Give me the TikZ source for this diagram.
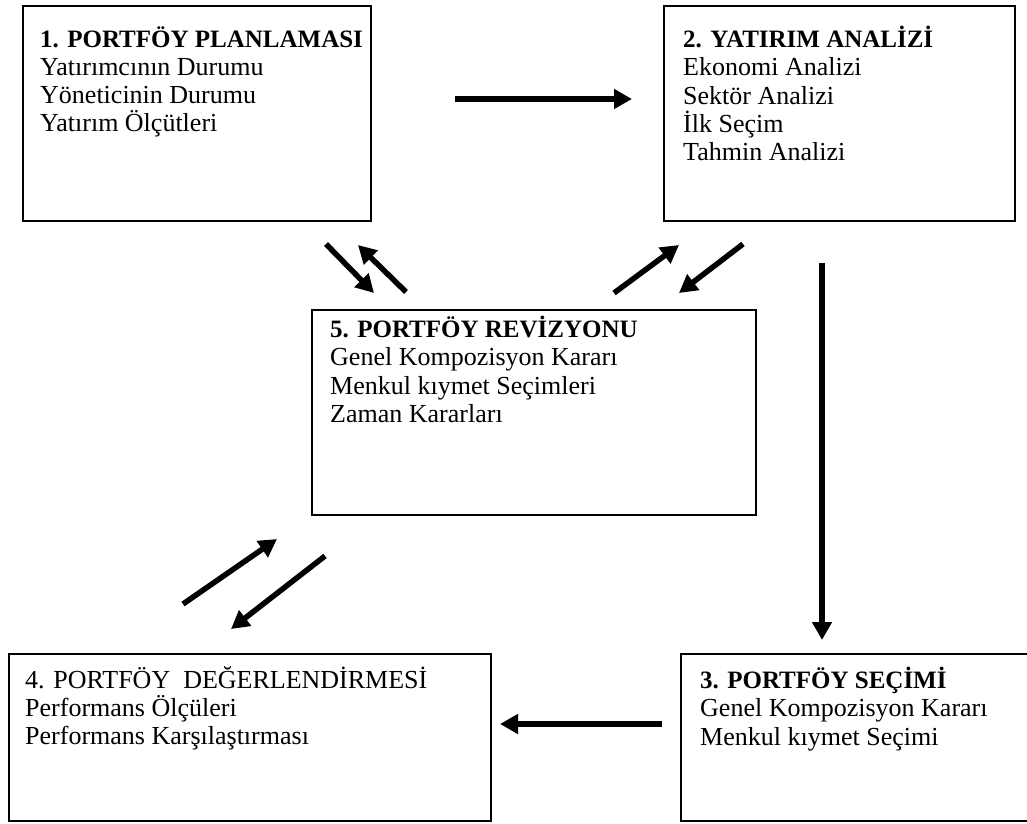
\documentclass[tikz,border=0pt]{standalone}
\usepackage{fontspec}
\setmainfont{Liberation Serif}
\usetikzlibrary{arrows.meta,positioning}
\newcommand{\boxtitle}[1]{\textbf{\fontsize{25}{28.3}\selectfont #1}}
\tikzset{
    %Define standard arrow tip
    >={Triangle[length=18pt,width=19pt]},
    %Define style for boxes
    box/.style={
           rectangle,
           draw=black, line width=1.8pt,
           anchor=north west,
           inner sep=0pt},
    boxtext/.style={
           align=left,
           inner sep=0pt,
           font=\fontsize{26}{28.3}\selectfont},
    % Define arrow style
    pil/.style={
           ->,
           line width=5.5pt}
}
\begin{document}
\begin{tikzpicture}[x=1pt,y=-1pt]
\useasboundingbox (0,0) rectangle (1027,823);
 %boxes
\node[box, minimum width=348pt, minimum height=215pt](1) at (22,5){};
\node[box, minimum width=351pt, minimum height=215pt](2) at (663,5){};
\node[box, minimum width=444pt, minimum height=205pt](5) at (311,309){};
\node[box, minimum width=482pt, minimum height=167pt](4) at (8,653){};
\node[box, minimum width=360pt, minimum height=167pt](3) at (680,653){};
 %texts
\node[boxtext, below right=21pt and 18pt of 1.north west](t1){\boxtitle{1. PORTFÖY PLANLAMASI}\\
  Yatırımcının Durumu\\ Yöneticinin Durumu\\ Yatırım Ölçütleri};
\node[boxtext, below right=21pt and 20pt of 2.north west](t2){\boxtitle{2. YATIRIM ANALİZİ}\\
  Ekonomi Analizi\\ Sektör Analizi\\ İlk Seçim\\ Tahmin Analizi};
\node[boxtext, below right=7pt and 19pt of 5.north west](t5){\boxtitle{5. PORTFÖY REVİZYONU}\\
  Genel Kompozisyon Kararı\\ Menkul kıymet Seçimleri\\ Zaman Kararları};
\node[boxtext, below right=13pt and 17pt of 4.north west](t4){4. PORTFÖY~~DEĞERLENDİRMESİ\\
  Performans Ölçüleri\\ Performans Karşılaştırması};
\node[boxtext, below right=14pt and 20pt of 3.north west](t3){\boxtitle{3. PORTFÖY SEÇİMİ}\\
  Genel Kompozisyon Kararı\\ Menkul kıymet Seçimi};
 %arrow ends
\coordinate (a12) at (455,99);  \coordinate (b12) at (632,99);
\coordinate (a23) at (822,263); \coordinate (b23) at (822,640);
\coordinate (a34) at (662,724); \coordinate (b34) at (500,724);
\coordinate (a15) at (326,244); \coordinate (b15) at (374,293);
\coordinate (a51) at (406,292); \coordinate (b51) at (358,245);
\coordinate (a52) at (614,293); \coordinate (b52) at (679,245);
\coordinate (a25) at (743,244); \coordinate (b25) at (679,293);
\coordinate (a45) at (183,604); \coordinate (b45) at (277,539);
\coordinate (a54) at (325,556); \coordinate (b54) at (231,629);
\foreach \i in {12,23,34,15,51,52,25,45,54}
    \draw[pil] (a\i) -- (b\i);
\end{tikzpicture}
\end{document}
